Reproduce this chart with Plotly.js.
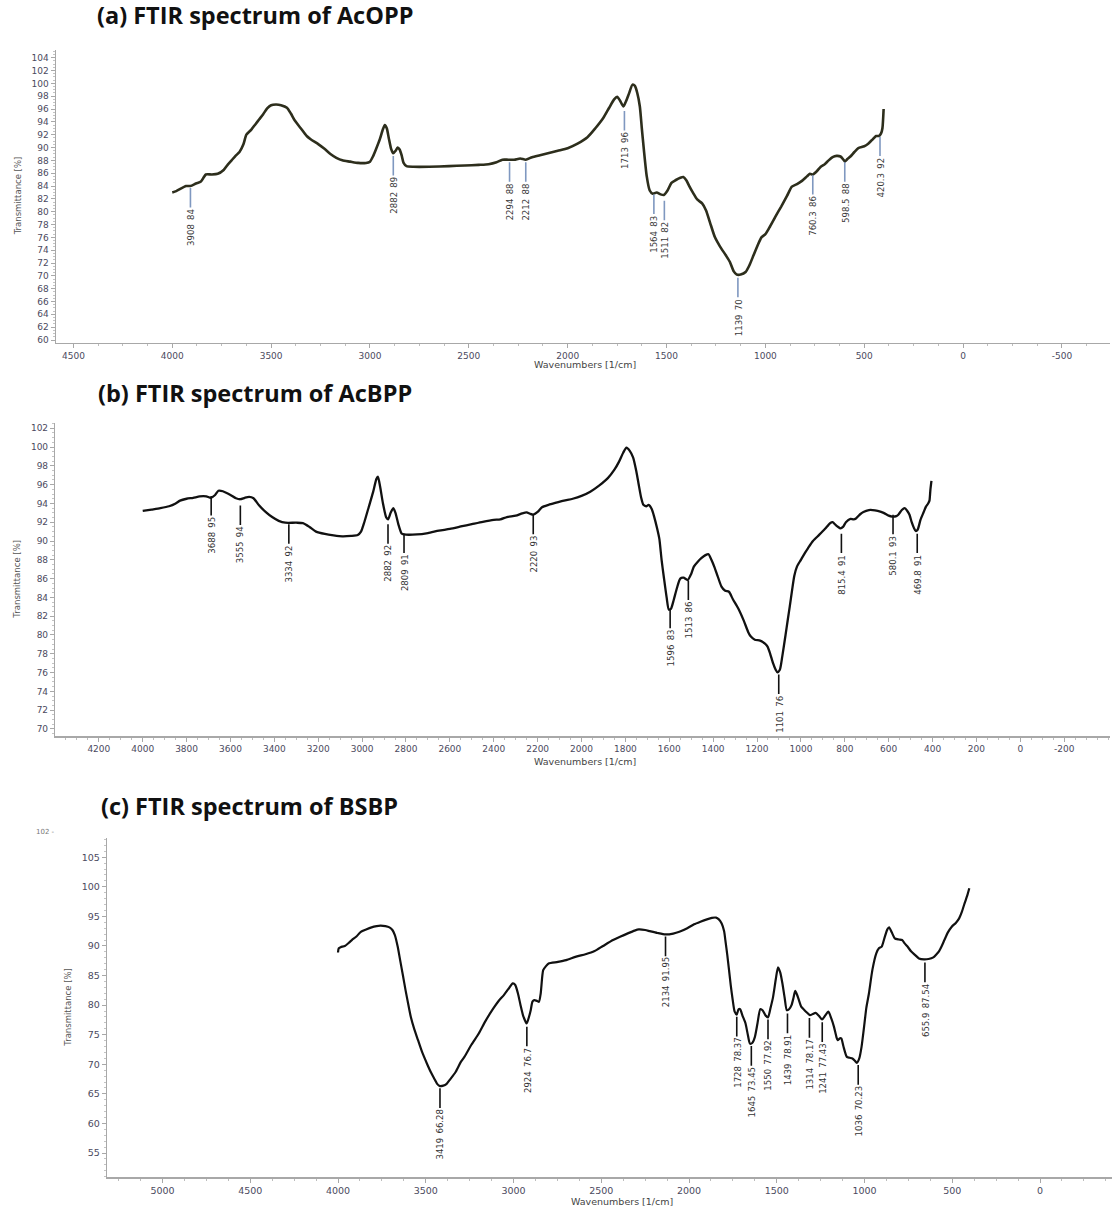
<!DOCTYPE html>
<html><head><meta charset="utf-8">
<script src="https://cdn.plot.ly/plotly-3.0.1.min.js"></script>
<style>body{margin:0;background:#fff}#chart{width:1118px;height:1207px}</style>
</head><body><div id="chart"></div>
<script>
// ---------- (a) AcOPP ----------
const aWave=[4000,3980,3930,3908,3880,3855,3840,3830,3800,3770,3740,3720,3700,3680,3660,3640,3625,3600,3580,3560,3540,3520,3500,3475,3450,3420,3400,3380,3350,3320,3300,3260,3230,3200,3170,3140,3100,3060,3020,3000,2985,2970,2950,2935,2925,2915,2905,2893,2882,2870,2860,2850,2840,2830,2815,2780,2700,2600,2520,2450,2400,2360,2330,2300,2270,2240,2212,2180,2140,2100,2050,2000,1950,1900,1860,1820,1790,1765,1750,1735,1718,1705,1690,1672,1660,1648,1635,1625,1615,1600,1585,1570,1550,1530,1514,1495,1475,1455,1430,1415,1400,1385,1365,1345,1320,1300,1280,1255,1230,1200,1180,1160,1145,1125,1100,1080,1060,1040,1020,1000,980,950,920,890,866,840,815,790,775,760,740,720,700,680,660,640,620,605,598,585,570,550,530,500,480,460,440,425,415,408,402];
const aTrans=[83.0,83.2,84.0,84.0,84.4,84.7,85.4,85.8,85.8,85.9,86.5,87.3,88.0,88.7,89.3,90.5,92.0,92.8,93.6,94.4,95.2,96.1,96.6,96.7,96.6,96.2,95.3,94.2,93.0,91.8,91.3,90.5,89.8,89.0,88.4,88.0,87.8,87.6,87.6,87.8,88.6,89.7,91.3,92.8,93.5,93.0,91.5,89.8,89.1,89.5,90.0,89.7,88.8,87.6,87.1,87.0,87.0,87.1,87.2,87.3,87.4,87.7,88.1,88.1,88.1,88.3,88.1,88.5,88.8,89.1,89.5,89.9,90.6,91.6,93.0,94.6,96.2,97.5,97.9,97.3,96.4,97.2,98.4,99.8,99.6,98.5,96.4,93.0,89.8,85.5,83.3,82.8,83.0,82.7,82.6,83.3,84.5,84.9,85.3,85.4,84.9,84.0,82.9,81.9,81.3,80.2,78.3,76.0,74.6,73.2,72.2,70.7,70.2,70.2,70.6,71.7,73.2,74.7,76.0,76.5,77.5,79.2,80.8,82.5,83.9,84.3,84.8,85.5,85.9,85.8,86.3,87.0,87.4,88.0,88.5,88.7,88.6,88.1,87.8,88.2,88.6,89.3,89.9,90.2,90.6,91.2,91.8,91.8,92.2,93.0,96.0];
const aPeakWave=[3908,2882,2294,2212,1713,1564,1511,1139,760.3,598.5,420.3];
const aPeakTrans=[84,89,88,88,96,83,82,70,86,88,92];
const aXTickLabels=['4500','4000','3500','3000','2500','2000','1500','1000','500','0','-500'];

// ---------- (b) AcBPP ----------
const bWave=[4000,3960,3920,3880,3850,3830,3800,3770,3740,3710,3690,3670,3655,3635,3600,3575,3555,3535,3515,3495,3470,3440,3410,3380,3350,3300,3270,3240,3210,3170,3130,3090,3050,3020,3005,2990,2970,2950,2935,2928,2918,2905,2890,2882,2870,2858,2848,2835,2820,2809,2750,2700,2650,2600,2550,2500,2450,2400,2370,2340,2300,2270,2250,2235,2220,2200,2180,2150,2120,2080,2040,2000,1960,1920,1880,1850,1830,1810,1795,1780,1765,1750,1740,1728,1718,1705,1694,1680,1669,1655,1645,1635,1625,1612,1602,1592,1580,1565,1550,1535,1516,1500,1488,1470,1454,1435,1421,1408,1395,1380,1362,1345,1328,1310,1286,1260,1240,1228,1210,1186,1165,1152,1140,1127,1115,1107,1096,1085,1070,1060,1051,1040,1030,1018,1000,980,968,945,917,890,867,855,841,830,820,808,795,774,760,749,730,715,690,673,650,623,600,584,565,556,540,527,515,505,495,485,477,468,455,440,430,420,414,410,405];
const bTrans=[93.2,93.35,93.5,93.7,94.0,94.3,94.5,94.6,94.75,94.75,94.6,94.9,95.35,95.3,94.9,94.55,94.45,94.6,94.7,94.55,93.8,93.1,92.55,92.15,91.95,91.95,91.9,91.5,91.0,90.75,90.6,90.5,90.55,90.65,91.0,92.0,93.6,95.2,96.6,96.85,95.8,94.0,92.5,92.3,93.0,93.5,93.0,91.8,90.8,90.7,90.7,90.85,91.1,91.3,91.55,91.8,92.05,92.25,92.3,92.55,92.7,92.95,93.05,92.9,92.8,93.1,93.6,93.85,94.05,94.3,94.5,94.8,95.25,95.9,96.7,97.6,98.4,99.4,99.95,99.6,98.9,97.4,96.1,94.6,93.85,93.7,93.84,93.4,92.6,91.3,90.2,88.0,86.2,84.0,82.7,82.8,83.7,85.0,86.0,86.1,85.85,86.5,87.28,87.8,88.17,88.5,88.6,88.0,87.28,86.3,85.15,84.7,84.6,83.8,82.84,81.5,80.3,79.83,79.5,79.4,79.1,78.77,78.0,77.0,76.3,76.03,76.3,77.7,80.0,81.6,83.0,84.8,86.3,87.28,88.0,88.8,89.23,90.0,90.65,91.3,91.9,92.0,91.7,91.5,91.35,91.5,92.0,92.35,92.3,92.4,92.85,93.1,93.3,93.3,93.2,93.0,92.7,92.6,92.65,92.8,93.3,93.5,93.2,92.8,92.0,91.4,91.07,91.2,92.25,93.1,93.66,94.0,94.3,95.4,96.4];
const bPeakWave=[3688,3555,3334,2882,2809,2220,1596,1513,1101,815.4,580.1,469.8];
const bPeakTrans=[95,94,92,92,91,93,83,86,76,91,93,91];
const bXTickLabels=['4200','4000','3800','3600','3400','3200','3000','2800','2600','2400','2200','2000','1800','1600','1400','1200','1000','800','600','400','200','0','-200'];

// ---------- (c) BSBP ----------
const cWave=[4000,3996,3985,3961,3940,3921,3895,3870,3840,3809,3780,3758,3730,3707,3690,3676,3660,3646,3630,3615,3600,3585,3565,3544,3520,3493,3470,3452,3435,3422,3400,3381,3360,3330,3300,3279,3240,3198,3160,3116,3085,3055,3030,3004,2990,2975,2960,2945,2925,2912,2902,2892,2882,2865,2855,2845,2831,2815,2800,2747,2700,2643,2590,2538,2490,2433,2390,2349,2310,2286,2250,2223,2180,2134,2090,2055,2010,1971,1935,1898,1870,1846,1830,1814,1800,1793,1782,1772,1762,1751,1740,1728,1718,1709,1695,1678,1665,1653,1640,1625,1610,1594,1580,1565,1550,1535,1521,1505,1493,1480,1468,1455,1443,1430,1416,1405,1395,1385,1374,1360,1342,1330,1311,1295,1279,1260,1242,1225,1206,1190,1174,1160,1153,1140,1132,1120,1101,1085,1069,1055,1044,1030,1017,1000,990,975,955,933,918,902,885,870,860,845,828,805,786,770,755,735,713,690,661,635,608,590,577,560,545,525,503,480,461,445,430,415,403];
const cTrans=[88.9,89.6,89.8,90.0,90.5,91.0,91.6,92.4,92.8,93.15,93.35,93.43,93.35,93.15,92.7,91.85,89.9,87.6,85.0,82.5,80.2,78.0,75.9,74.07,72.0,70.1,68.6,67.6,66.7,66.35,66.4,66.7,67.5,68.7,70.4,71.3,73.3,75.2,77.3,79.4,80.7,81.7,82.7,83.67,83.4,82.0,80.0,78.2,76.9,78.0,79.15,80.6,80.85,80.7,80.56,82.0,85.9,86.6,87.05,87.3,87.6,88.2,88.6,89.14,90.0,91.0,91.6,92.13,92.6,92.8,92.7,92.5,92.2,91.95,92.1,92.4,93.0,93.66,94.1,94.5,94.75,94.8,94.5,93.8,92.5,91.0,88.5,85.9,83.3,80.85,78.9,78.4,79.3,79.3,78.2,76.9,75.0,73.5,73.6,74.6,76.9,79.3,79.1,78.3,77.92,79.6,81.4,84.5,86.4,85.5,83.7,81.2,79.15,79.3,80.0,81.2,82.4,81.8,80.85,79.7,79.15,78.8,78.3,78.5,78.7,78.2,77.57,78.2,78.9,77.8,76.33,74.6,74.07,74.4,74.35,73.0,71.25,71.1,70.97,70.6,70.24,71.0,72.95,77.0,79.5,81.97,86.0,88.75,89.6,89.9,91.5,92.8,93.15,92.3,91.3,91.1,91.0,90.4,89.9,89.1,88.5,87.9,87.73,87.8,88.07,88.6,89.03,90.0,91.0,92.3,93.26,93.9,94.67,95.8,97.2,98.5,99.75];
const cPeakWave=[3419,2924,2134,1728,1645,1550,1439,1314,1241,1036,655.9];
const cPeakTrans=[66.28,76.7,91.95,78.37,73.45,77.92,78.91,78.17,77.43,70.23,87.54];
const cXTickLabels=['5000','4500','4000','3500','3000','2500','2000','1500','1000','500','0'];

// ---------- layout geometry (pixels) ----------
const W=1118,H=1207;
const panels=[
  {title:'(a) FTIR spectrum of AcOPP', wave:aWave, trans:aTrans, pw:aPeakWave, pt:aPeakTrans, xt:aXTickLabels,
   left:56, right:1109.7, top:50, bottom:342.7, xr:[4588,-741.5], yr:[59.58,105.2], yd:2, y0:60, ym:0.5, xm:125,
   line:'#2d2e1c', lw:2.6, ann:'#7f98c0', annTxt:'#3a3a3a', titleX:95, titleY:15, ytX:18, xtX:585, xtY:364, fs:9},
  {title:'(b) FTIR spectrum of AcBPP', wave:bWave, trans:bTrans, pw:bPeakWave, pt:bPeakTrans, xt:bXTickLabels,
   left:55.4, right:1109.7, top:423.3, bottom:736, xr:[4398,-407.5], yr:[69.25,102.53], yd:2, y0:70, ym:0.5, xm:50,
   line:'#111111', lw:2.3, ann:'#111111', annTxt:'#333333', titleX:96, titleY:393, ytX:17, xtX:585, xtY:761, fs:9},
  {title:'(c) FTIR spectrum of BSBP', wave:cWave, trans:cTrans, pw:cPeakWave, pt:cPeakTrans, xt:cXTickLabels,
   left:107.3, right:1112, top:838.3, bottom:1177.3, xr:[5314.5,-410], yr:[50.9,108.2], yd:5, y0:55, ym:1, xm:125,
   line:'#111111', lw:2.2, ann:'#111111', annTxt:'#333333', titleX:99, titleY:806, ytX:68, xtX:622, xtY:1201, fs:9.5}
];

const data=[], annotations=[], layout={width:W,height:H,margin:{l:0,r:0,t:0,b:0},paper_bgcolor:'#fff',plot_bgcolor:'#fff',showlegend:false,font:{family:'DejaVu Sans, Verdana, sans-serif',color:'#4a4a5c'}};
const tickCol='#a8a8a8', labCol='#4b4a5e';
const annFamily='DejaVu Sans Condensed';
const annSize=9.5;
const ctx=document.createElement('canvas').getContext('2d');
ctx.font=annSize+'px "'+annFamily+'"';

panels.forEach((p,i)=>{
  const n=i===0?'':String(i+1);
  const xa='x'+n, ya='y'+n;
  data.push({type:'scatter',mode:'lines',x:p.wave,y:p.trans,xaxis:xa,yaxis:ya,
    line:{color:p.line,width:p.lw,shape:'spline',smoothing:0.6},hoverinfo:'skip'});
  layout['xaxis'+n]={domain:[p.left/W,p.right/W],anchor:ya,range:p.xr,showgrid:false,zeroline:false,
    showline:true,linecolor:tickCol,linewidth:1.5,ticks:'outside',ticklen:4,tickcolor:tickCol,tickwidth:1,
    tickmode:'array',tickvals:p.xt.map(Number),ticktext:p.xt,tickfont:{size:p.fs,color:labCol},
    minor:{tickmode:'linear',tick0:0,dtick:p.xm,ticks:'outside',ticklen:2,tickcolor:'#bdbdbd',showgrid:false}};
  layout['yaxis'+n]={domain:[1-p.bottom/H,1-p.top/H],anchor:xa,range:p.yr,showgrid:false,zeroline:false,
    showline:true,linecolor:tickCol,linewidth:1.5,ticks:'outside',ticklen:4,tickcolor:tickCol,tickwidth:1,
    tickmode:'linear',tick0:p.y0,dtick:p.yd,tickfont:{size:p.fs,color:labCol},
    minor:{tickmode:'linear',tick0:p.y0,dtick:p.ym,ticks:'outside',ticklen:2,tickcolor:'#c4c4c4',showgrid:false}};
  // panel title
  annotations.push({xref:'paper',yref:'paper',x:p.titleX/W,y:1-p.titleY/H,xanchor:'left',yanchor:'middle',showarrow:false,
    text:'<b>'+p.title+'</b>',font:{family:'Open Sans, Noto Sans, sans-serif',size:23.5,color:'#111'}});
  // axis titles
  annotations.push({xref:'paper',yref:'paper',x:p.ytX/W,y:1-((p.top+p.bottom)/2)/H,xanchor:'center',yanchor:'middle',showarrow:false,
    textangle:-90,text:'Transmittance [%]',font:{size:8.5,color:'#555'}});
  annotations.push({xref:'paper',yref:'paper',x:p.xtX/W,y:1-p.xtY/H,xanchor:'center',yanchor:'middle',showarrow:false,
    text:'Wavenumbers [1/cm]',font:{size:9.5,color:'#444'}});
  // peak labels: a short vertical line below the peak, value text below it
  p.pw.forEach((w,k)=>{
    const txt=String(w)+'\u2002'+String(p.pt[k]);
    const tw=ctx.measureText(txt).width;
    annotations.push({xref:xa,yref:ya,x:w,y:p.pt[k],text:txt,
      showarrow:true,arrowhead:0,arrowwidth:1.6,arrowcolor:p.ann,ax:0,ay:23+tw/2,standoff:2,
      textangle:-90,font:{family:annFamily,size:annSize,color:p.annTxt}});
  });
});
// cropped leftover tick label above panel (c)
annotations.push({xref:'paper',yref:'paper',x:45/W,y:1-832/H,xanchor:'center',yanchor:'middle',showarrow:false,
  text:'102 -',font:{size:7,color:'#777'}});
layout.annotations=annotations;
Plotly.newPlot('chart',data,layout,{displayModeBar:false,staticPlot:true});
</script></body></html>
